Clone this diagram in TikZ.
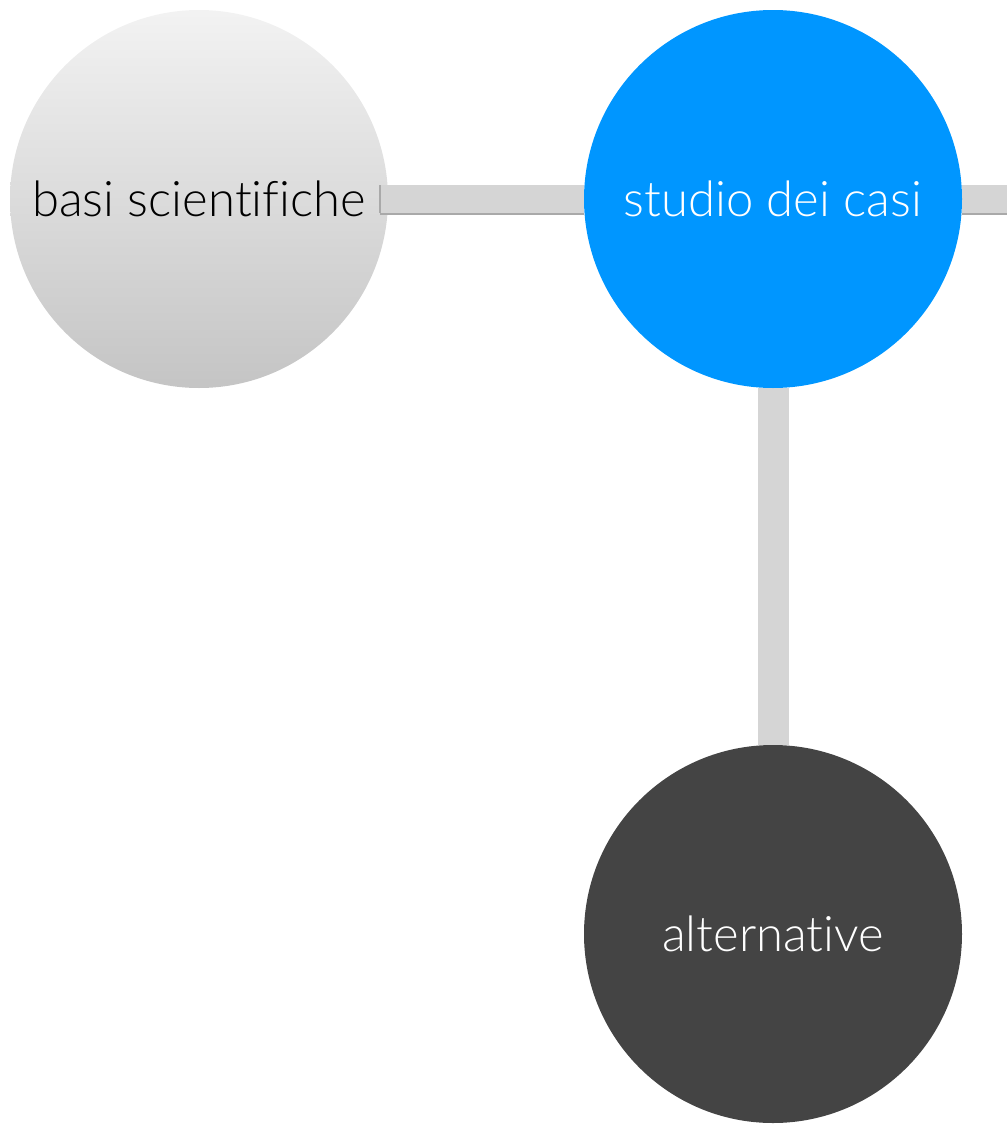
\documentclass[tikz,border=0pt]{standalone}
\usepackage{fontspec}
\setmainfont{Lato Light}[Ligatures=NoCommon]
\usetikzlibrary{backgrounds}

\definecolor{barGray}{HTML}{D5D5D5}
\definecolor{barShade}{HTML}{A9A9A9}
\definecolor{caseBlue}{HTML}{0096FF}
\definecolor{altDark}{HTML}{444444}

\begin{document}
\begin{tikzpicture}[x=1pt, y=-1pt,
	topic/.style={circle, minimum size=378pt, inner sep=0pt,
		font=\fontsize{49}{56}\selectfont},
	bar/.style={line width=28pt, barGray},
	barshade/.style={line width=28pt, barShade}]

	\useasboundingbox (0,0) rectangle (1007,1127);

	\node[topic, top color=black!5, bottom color=black!23] (basi) at (199,199)
		{basi scientifiche};
	\node[topic, fill=caseBlue, text=white] (casi) at (773,199)
		{studio dei casi};
	\node[topic, fill=altDark, text=white] (alt) at (773,934)
		{alternative};

	\coordinate (rightend) at (1007,199);

	% the left bar overlaps the grey circle, the others stay behind
	\draw[barshade] ([yshift=-2pt]basi.east) ++(-8,0) -- ([yshift=-2pt]casi.west);
	\draw[bar] (basi.east) ++(-8,0) -- (casi.west);
	\draw[barShade, line width=1.5pt] ([yshift=14pt]basi.east) ++(-8,0) -- ++(0,28);

	\begin{scope}[on background layer]
		\draw[barshade] ([yshift=-2pt]casi.east) -- ([yshift=-2pt]rightend);
		\draw[bar] (casi.east) -- (rightend);
		\draw[line width=31pt, barGray] (casi.south) -- (alt.north);
	\end{scope}
\end{tikzpicture}
\end{document}
